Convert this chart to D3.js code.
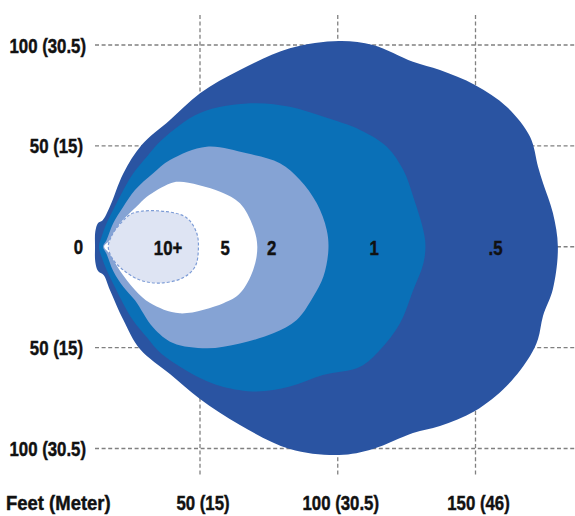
<!DOCTYPE html>
<html>
<head>
<meta charset="utf-8">
<script src="https://cdn.jsdelivr.net/npm/d3@7"></script>
<style>
  body { margin: 0; background: #fff; }
  svg text {
    font-family: "Liberation Sans", Arial, sans-serif;
    font-weight: bold;
    font-size: 21px;
    fill: #111;
    stroke: #111;
    stroke-width: 0.45px;
  }
</style>
</head>
<body>
<svg width="575" height="516"></svg>
<script>
// Tick values (feet) and their labels
const yTicks = [100, 50, 0, -50, -100];
const yTickLabels = ['100 (30.5)', '50 (15)', '0', '50 (15)', '100 (30.5)'];
const xTicks = [50, 100, 150];
const xTickLabels = ['50 (15)', '100 (30.5)', '150 (46)'];
const unitLabel = 'Feet (Meter)';

// Contours, [feet forward, feet sideways]
const contour05 = [
  [14.6, 13.0], [17.3, 19.9], [22.2, 36.4], [28.8, 50.4], [39.1, 62.8], [50.0, 76.1],
  [64.5, 87.6], [82.6, 98.4], [100.5, 102.0], [112.8, 100.0], [127.3, 91.7], [137.1, 87.6],
  [149.8, 80.2], [161.3, 69.4], [169.8, 54.5], [172.7, 39.7], [174.5, 31.6], [178.1, 16.7],
  [179.9, 0], [178.1, -20.9], [174.5, -34.3], [172.7, -45.7], [169.8, -54.1], [161.3, -69.0],
  [149.8, -81.4], [137.1, -88.8], [127.3, -92.3], [112.8, -100.2], [100.5, -103.2], [82.6, -100.2],
  [64.5, -88.4], [50.0, -75.5], [39.1, -63.1], [28.2, -50.7], [22.2, -36.3], [17.3, -21.4],
  [15.0, -14.0], [13.0, -12.0], [12.0, -7.5], [11.9, 0], [12.0, 7.5], [13.0, 11.8]
];
const contour1 = [
  [14.3, 5.0], [16.1, 11.6], [19.1, 19.9], [22.2, 28.1], [25.8, 36.4], [30.7, 44.6],
  [36.1, 52.9], [50.0, 66.3], [68.2, 71.1], [82.6, 69.4], [94.6, 64.5], [108.1, 57.9],
  [117.8, 49.6], [123.8, 38.0], [127.4, 24.8], [131.7, 3.3], [131.1, -8.2], [127.4, -21.4],
  [122.6, -37.9], [115.3, -51.2], [108.1, -59.5], [94.6, -63.6], [82.6, -69.3], [70.6, -71.8],
  [58.3, -69.4], [50.0, -65.1], [36.1, -53.2], [30.7, -44.9], [25.8, -36.7], [22.2, -28.4],
  [19.1, -19.9], [16.1, -11.5], [14.3, -5.1], [13.3, 0]
];
const contour2 = [
  [14.8, 0], [16.1, 3.3], [18.5, 11.6], [22.2, 19.9], [26.4, 28.1], [33.0, 36.4],
  [39.1, 43.0], [52.4, 49.6], [67.0, 46.3], [79.0, 41.4], [86.3, 33.1], [92.4, 21.5],
  [96.0, 8.3], [96.6, -1.6], [94.8, -14.8], [91.1, -24.8], [85.1, -36.3], [76.6, -42.9],
  [64.5, -47.9], [52.4, -50.3], [40.2, -47.7], [33.0, -40.0], [26.4, -26.5], [22.2, -19.9],
  [18.5, -12.0], [16.1, -3.6]
];
const contour5 = [
  [15.2, 0], [17.3, 3.3], [21.0, 11.6], [27.0, 19.9], [30.7, 24.8], [39.1, 31.4],
  [42.7, 32.2], [57.3, 27.3], [64.5, 21.5], [69.3, 9.9], [70.8, 0], [69.3, -11.5],
  [64.5, -23.1], [58.5, -28.0], [42.7, -33.0], [31.9, -27.9], [26.4, -21.4], [21.0, -12.0],
  [17.3, -3.6]
];
const contour10 = [
  [16.7, 0], [17.9, 5.3], [21.0, 11.3], [25.7, 16.7], [37.9, 17.4], [45.2, 14.3],
  [48.8, 6.8], [49.4, -1.6], [48.2, -9.9], [43.8, -15.4], [35.5, -18.0], [28.2, -16.5],
  [22.1, -11.5], [18.1, -5.6]
];

const zoneNames = ['.5', '1', '2', '5', '10+'];
const zoneLabelX = [157.3, 113.2, 76.0, 59.1, 38.4];
const zoneColors = ['#2a54a2', '#0a70b7', '#85a3d4', '#ffffff', '#dee4f3'];
const zoneContours = [contour05, contour1, contour2, contour5, contour10];

const svg = d3.select('svg');

// condensed look for the bold labels
const squeeze = 0.8;

// Scales: feet -> pixels
const x = d3.scaleLinear().domain([50, 150]).range([200, 475.5]);
const y = d3.scaleLinear().domain([-100, 100]).range([448.5, 45]);

// Grid lines
const gridG = svg.append('g')
  .attr('stroke', '#808080')
  .attr('stroke-width', 1.3)
  .attr('stroke-dasharray', '4,2.6');

gridG.selectAll('.hgrid').data(yTicks).enter().append('line')
  .attr('class', 'hgrid')
  .attr('x1', 95).attr('x2', 575)
  .attr('y1', d => y(d)).attr('y2', d => y(d));

gridG.selectAll('.vgrid').data(xTicks).enter().append('line')
  .attr('class', 'vgrid')
  .attr('x1', d => x(d)).attr('x2', d => x(d))
  .attr('y1', 15).attr('y2', 476);

// Zones, outermost first
const line = d3.line()
  .x(d => x(d[0]))
  .y(d => y(d[1]))
  .curve(d3.curveCatmullRomClosed.alpha(0.5));

const zones = zoneNames.map((name, i) => ({ name, color: zoneColors[i], pts: zoneContours[i], lx: zoneLabelX[i] }));

svg.append('g').selectAll('path').data(zones).enter().append('path')
  .attr('d', d => line(d.pts))
  .attr('fill', d => d.color)
  .attr('stroke', d => d.name === '10+' ? '#7d9cd6' : 'none')
  .attr('stroke-width', 1.2)
  .attr('stroke-dasharray', d => d.name === '10+' ? '3,2' : null);

// text helper: place and squeeze horizontally
const place = (sel, px, py) => sel
  .attr('transform', (d, i) => `translate(${px(d, i)},${py(d, i)}) scale(${squeeze},1)`);

// Zone labels
svg.append('g').selectAll('text').data(zones).enter().append('text')
  .call(place, d => x(d.lx), () => y(0) + 8)
  .attr('text-anchor', 'middle')
  .text(d => d.name);

// Left labels
svg.append('g').selectAll('text').data(yTicks).enter().append('text')
  .call(place, d => d === 100 || d === -100 ? 86 : 83, d => y(d) + 7.5)
  .attr('text-anchor', 'end')
  .text((d, i) => yTickLabels[i]);

// Bottom labels
svg.append('g').selectAll('text').data(xTicks).enter().append('text')
  .call(place, d => x(d) + 3, () => 510)
  .attr('text-anchor', 'middle')
  .text((d, i) => xTickLabels[i]);

svg.append('text')
  .datum(unitLabel)
  .attr('transform', `translate(6,510) scale(0.88,1)`)
  .text(d => d);
</script>
</body>
</html>
